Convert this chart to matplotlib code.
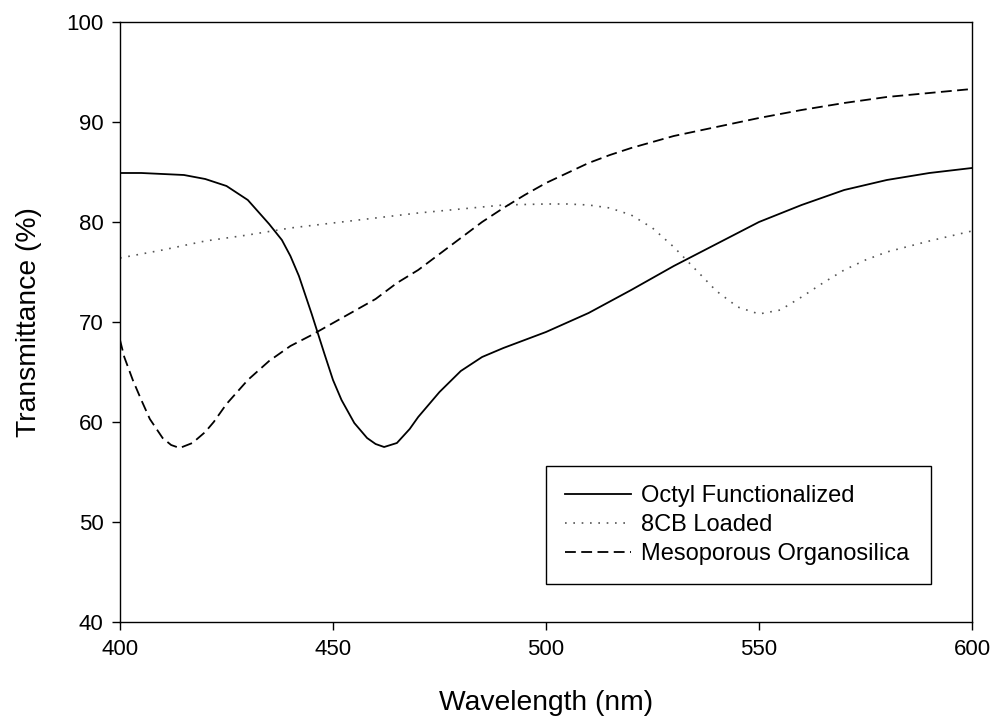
"""
Transmittance spectra of the three organosilica samples
"""
import matplotlib.pyplot as plt

plt.rcParams['font.family'] = ['Liberation Sans', 'DejaVu Sans']

# Octyl functionalized (solid)
octyl_nm = [400, 405, 410, 415, 420, 425, 430, 435, 438, 440, 442, 445, 448, 450,
            452, 455, 458, 460, 462, 465, 468, 470, 475, 480, 485, 490, 495, 500,
            510, 520, 530, 540, 550, 560, 570, 580, 590, 600]
octyl_t = [84.9, 84.9, 84.8, 84.7, 84.3, 83.6, 82.2, 79.8, 78.2, 76.6, 74.6, 70.8, 66.8, 64.2,
           62.2, 59.9, 58.4, 57.8, 57.5, 57.9, 59.3, 60.5, 63.0, 65.1, 66.5, 67.4, 68.2, 69.0,
           70.9, 73.2, 75.6, 77.8, 80.0, 81.7, 83.2, 84.2, 84.9, 85.4]

# 8CB loaded (dotted)
cb_nm = [400, 410, 420, 430, 440, 450, 460, 470, 480, 490, 500, 505, 510, 515, 520,
         525, 530, 535, 540, 545, 550, 555, 560, 565, 570, 575, 580, 590, 600]
cb_t = [76.4, 77.2, 78.1, 78.7, 79.4, 79.9, 80.4, 80.9, 81.3, 81.7, 81.8, 81.8, 81.7, 81.4, 80.7,
        79.4, 77.5, 75.3, 73.1, 71.5, 70.8, 71.2, 72.5, 73.9, 75.2, 76.2, 77.0, 78.1, 79.1]

# Mesoporous organosilica (dashed)
meso_nm = [400, 401, 403, 405, 407, 410, 412, 414, 417, 420, 422, 425, 430, 435, 440,
           445, 450, 455, 460, 465, 470, 475, 480, 485, 490, 495, 500, 505, 510, 515,
           520, 530, 540, 550, 560, 570, 580, 590, 600]
meso_t = [68.2, 66.5, 64.2, 62.2, 60.3, 58.4, 57.7, 57.4, 57.9, 59.0, 60.0, 61.8, 64.2, 66.1, 67.6,
          68.7, 69.9, 71.1, 72.3, 73.9, 75.2, 76.8, 78.4, 80.0, 81.4, 82.7, 83.9, 84.9, 85.9, 86.7,
          87.4, 88.6, 89.5, 90.4, 91.2, 91.9, 92.5, 92.9, 93.3]

fig = plt.figure(figsize=(9.91, 7.21), dpi=100)
ax = fig.add_axes([0.1211, 0.1373, 0.8597, 0.8322])

ax.plot(octyl_nm, octyl_t, color='black', lw=1.3, ls='-', label='Octyl Functionalized')
ax.plot(cb_nm, cb_t, color='#555555', lw=1.2, ls=(0, (1, 4)), label='8CB Loaded')
ax.plot(meso_nm, meso_t, color='black', lw=1.3, ls=(0, (6, 3)), label='Mesoporous Organosilica')

ax.set_xlim(400, 600)
ax.set_ylim(40, 100)
ax.set_xticks([400, 450, 500, 550, 600])
ax.set_yticks([40, 50, 60, 70, 80, 90, 100])
ax.tick_params(direction='out', length=6, width=1, labelsize=16, top=False, right=False, pad=6)
for sp in ax.spines.values():
    sp.set_linewidth(1.0)

ax.set_xlabel('Wavelength (nm)', fontsize=20.3, labelpad=22)
ax.set_ylabel('Transmittance (%)', fontsize=20.3, labelpad=17)

leg = ax.legend(loc='upper left', bbox_to_anchor=(0.5, 0.06, 0.4519, 0.2), mode='expand',
                borderaxespad=0, fontsize=17, handlelength=2.8, handletextpad=0.4,
                labelspacing=0.29, borderpad=0.82, fancybox=False, framealpha=1)
leg.get_frame().set_edgecolor('black')
leg.get_frame().set_linewidth(1.0)

plt.savefig('out.png', dpi=100)
plt.close()
